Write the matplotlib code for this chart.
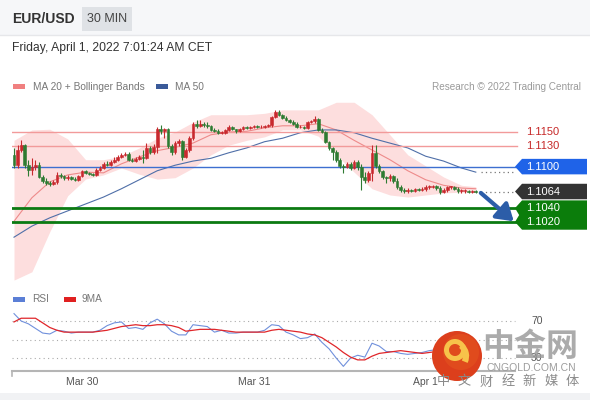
import matplotlib
matplotlib.use("Agg")
import matplotlib.pyplot as plt
import pandas as pd
from matplotlib.patches import Rectangle, Polygon, Circle, Arc, Wedge
from matplotlib.transforms import blended_transform_factory

plt.rcParams["font.family"] = ["Liberation Sans", "Noto Sans CJK SC", "DejaVu Sans"]

# --- Datos: velas EUR/USD 30 min (desde Mar 29 14:30 hasta Apr 1 07:00) ---
start_time = "2022-03-29 14:30"
opens = [1.1117, 1.1102, 1.1124, 1.1131, 1.1102, 1.1095, 1.1099, 1.1102, 1.1085, 1.1079,
         1.1076, 1.1075, 1.1078, 1.1088, 1.1086, 1.1084, 1.1085, 1.1082, 1.1081, 1.1086,
         1.1094, 1.1091, 1.1089, 1.1088, 1.1095, 1.1098, 1.1104, 1.1102, 1.1107, 1.1110,
         1.1114, 1.1117, 1.1118, 1.1110, 1.1108, 1.1111, 1.1114, 1.1112, 1.1127, 1.1121,
         1.1128, 1.1154, 1.1151, 1.1154, 1.1130, 1.1121, 1.1134, 1.1137, 1.1114, 1.1124,
         1.1141, 1.1162, 1.1159, 1.1162, 1.1160, 1.1159, 1.1153, 1.1151, 1.1149, 1.1149,
         1.1153, 1.1157, 1.1154, 1.1151, 1.1154, 1.1157, 1.1156, 1.1157, 1.1159, 1.1157,
         1.1157, 1.1159, 1.1160, 1.1172, 1.1179, 1.1175, 1.1170, 1.1167, 1.1164, 1.1162,
         1.1157, 1.1157, 1.1156, 1.1164, 1.1166, 1.1169, 1.1153, 1.1150, 1.1136, 1.1127,
         1.1121, 1.1110, 1.1101, 1.1099, 1.1104, 1.1098, 1.1107, 1.1099, 1.1085, 1.1081,
         1.1091, 1.1120, 1.1101, 1.1094, 1.1085, 1.1084, 1.1086, 1.1079, 1.1071, 1.1066,
         1.1065, 1.1066, 1.1065, 1.1068, 1.1066, 1.1068, 1.1071, 1.1071, 1.1072, 1.1069,
         1.1063, 1.1066, 1.1071, 1.1071, 1.1068, 1.1065, 1.1065, 1.1065, 1.1063, 1.1065]
closes = [1.1102, 1.1124, 1.1131, 1.1102, 1.1095, 1.1099, 1.1102, 1.1085, 1.1079, 1.1076,
          1.1075, 1.1078, 1.1088, 1.1086, 1.1084, 1.1085, 1.1082, 1.1081, 1.1086, 1.1094,
          1.1091, 1.1089, 1.1088, 1.1095, 1.1098, 1.1104, 1.1102, 1.1107, 1.1110, 1.1114,
          1.1117, 1.1118, 1.1110, 1.1108, 1.1111, 1.1114, 1.1112, 1.1127, 1.1121, 1.1128,
          1.1154, 1.1151, 1.1154, 1.1130, 1.1121, 1.1134, 1.1137, 1.1114, 1.1124, 1.1141,
          1.1162, 1.1159, 1.1162, 1.1160, 1.1159, 1.1153, 1.1151, 1.1149, 1.1149, 1.1153,
          1.1157, 1.1154, 1.1151, 1.1154, 1.1157, 1.1156, 1.1157, 1.1159, 1.1157, 1.1157,
          1.1159, 1.1160, 1.1172, 1.1179, 1.1175, 1.1170, 1.1167, 1.1164, 1.1162, 1.1157,
          1.1157, 1.1156, 1.1164, 1.1166, 1.1169, 1.1153, 1.1150, 1.1136, 1.1127, 1.1121,
          1.1110, 1.1101, 1.1099, 1.1104, 1.1098, 1.1107, 1.1099, 1.1085, 1.1081, 1.1091,
          1.1120, 1.1101, 1.1094, 1.1085, 1.1084, 1.1086, 1.1079, 1.1071, 1.1066, 1.1065,
          1.1066, 1.1065, 1.1068, 1.1066, 1.1068, 1.1071, 1.1071, 1.1072, 1.1069, 1.1063,
          1.1066, 1.1071, 1.1071, 1.1068, 1.1065, 1.1065, 1.1065, 1.1063, 1.1065, 1.1064]
highs = [1.1127, 1.1131, 1.1138, 1.1133, 1.1110, 1.1112, 1.1110, 1.1107, 1.1088, 1.1084,
         1.1079, 1.1081, 1.1092, 1.1091, 1.1088, 1.1088, 1.1086, 1.1085, 1.1088, 1.1095,
         1.1095, 1.1092, 1.1091, 1.1098, 1.1101, 1.1107, 1.1108, 1.1110, 1.1114, 1.1117,
         1.1120, 1.1121, 1.1121, 1.1112, 1.1114, 1.1117, 1.1124, 1.1134, 1.1130, 1.1133,
         1.1157, 1.1160, 1.1156, 1.1156, 1.1133, 1.1137, 1.1140, 1.1138, 1.1127, 1.1144,
         1.1164, 1.1167, 1.1167, 1.1164, 1.1164, 1.1160, 1.1156, 1.1154, 1.1151, 1.1154,
         1.1160, 1.1159, 1.1154, 1.1156, 1.1159, 1.1159, 1.1159, 1.1160, 1.1160, 1.1160,
         1.1160, 1.1162, 1.1173, 1.1182, 1.1182, 1.1176, 1.1173, 1.1169, 1.1167, 1.1164,
         1.1160, 1.1159, 1.1166, 1.1167, 1.1173, 1.1170, 1.1156, 1.1151, 1.1137, 1.1128,
         1.1124, 1.1112, 1.1104, 1.1107, 1.1107, 1.1110, 1.1110, 1.1104, 1.1092, 1.1094,
         1.1131, 1.1131, 1.1104, 1.1095, 1.1086, 1.1089, 1.1088, 1.1084, 1.1073, 1.1069,
         1.1069, 1.1068, 1.1069, 1.1069, 1.1071, 1.1073, 1.1073, 1.1073, 1.1073, 1.1072,
         1.1069, 1.1072, 1.1072, 1.1072, 1.1071, 1.1068, 1.1068, 1.1066, 1.1066, 1.1066]
lows = [1.1098, 1.1098, 1.1121, 1.1098, 1.1086, 1.1088, 1.1095, 1.1084, 1.1076, 1.1073,
        1.1072, 1.1073, 1.1075, 1.1084, 1.1081, 1.1081, 1.1081, 1.1079, 1.1079, 1.1085,
        1.1089, 1.1088, 1.1086, 1.1086, 1.1094, 1.1097, 1.1101, 1.1101, 1.1105, 1.1108,
        1.1112, 1.1115, 1.1108, 1.1107, 1.1107, 1.1110, 1.1105, 1.1111, 1.1118, 1.1118,
        1.1120, 1.1147, 1.1141, 1.1127, 1.1117, 1.1118, 1.1130, 1.1110, 1.1112, 1.1121,
        1.1138, 1.1156, 1.1157, 1.1157, 1.1156, 1.1151, 1.1150, 1.1147, 1.1147, 1.1147,
        1.1151, 1.1153, 1.1149, 1.1150, 1.1153, 1.1154, 1.1154, 1.1156, 1.1156, 1.1156,
        1.1156, 1.1157, 1.1157, 1.1170, 1.1173, 1.1169, 1.1166, 1.1163, 1.1160, 1.1156,
        1.1156, 1.1154, 1.1154, 1.1163, 1.1163, 1.1151, 1.1149, 1.1134, 1.1124, 1.1110,
        1.1107, 1.1098, 1.1091, 1.1098, 1.1095, 1.1097, 1.1095, 1.1066, 1.1076, 1.1078,
        1.1079, 1.1098, 1.1091, 1.1082, 1.1076, 1.1079, 1.1076, 1.1068, 1.1063, 1.1062,
        1.1062, 1.1063, 1.1063, 1.1065, 1.1065, 1.1065, 1.1068, 1.1069, 1.1066, 1.1060,
        1.1062, 1.1063, 1.1068, 1.1066, 1.1062, 1.1062, 1.1062, 1.1062, 1.1062, 1.1062]

# indicadores (cada 5 velas)
ind_bars = [0, 5, 10, 15, 20, 25, 30, 35, 40, 45, 50, 55, 60, 65, 70, 75, 80, 85, 90, 95,
            100, 105, 110, 115, 120, 125, 129]
ma20 = [1.1021, 1.1055, 1.1078, 1.1088, 1.1092, 1.1091, 1.1104, 1.1114, 1.1123, 1.1128,
        1.1134, 1.1146, 1.1150, 1.1151, 1.1156, 1.1159, 1.1159, 1.1162, 1.1153, 1.1138,
        1.1124, 1.1110, 1.1094, 1.1081, 1.1073, 1.1069, 1.1068]
bb_upper = [1.1138, 1.1153, 1.1154, 1.1140, 1.1110, 1.1110, 1.1115, 1.1127, 1.1141, 1.1150,
            1.1164, 1.1175, 1.1175, 1.1175, 1.1177, 1.1182, 1.1182, 1.1182, 1.1193, 1.1193,
            1.1175, 1.1146, 1.1117, 1.1101, 1.1085, 1.1073, 1.1071]
bb_lower = [1.0936, 1.0948, 1.1006, 1.1058, 1.1082, 1.1088, 1.1098, 1.1089, 1.1082, 1.1084,
            1.1098, 1.1117, 1.1131, 1.1138, 1.1143, 1.1153, 1.1153, 1.1144, 1.1117, 1.1092,
            1.1068, 1.1059, 1.1056, 1.1059, 1.1062, 1.1063, 1.1063]
ma50 = [1.0998, 1.1014, 1.1026, 1.1036, 1.1046, 1.1056, 1.1068, 1.1081, 1.1094, 1.1102,
        1.1108, 1.1112, 1.1120, 1.1127, 1.1136, 1.1141, 1.1149, 1.1153, 1.1153, 1.1149,
        1.1141, 1.1134, 1.1127, 1.1115, 1.1108, 1.1098, 1.1092]

# RSI y su media de 9 (cada 2 velas)
rsi = [78, 70, 67, 62, 57, 56, 60, 59, 57, 58, 58, 58, 60, 65, 68, 69, 62, 63, 61, 68,
       72, 67, 59, 55, 55, 66, 65, 64, 58, 60, 57, 57, 58, 58, 58, 60, 66, 65, 58, 55,
       51, 52, 56, 47, 40, 30, 21, 30, 33, 31, 46, 43, 37, 37, 35, 34, 35, 36, 38, 39,
       40, 39, 38, 38, 38]
rsi_ma9 = [69, 73, 73, 73, 68, 63, 60, 58, 58, 58, 58, 58, 59, 60, 62, 64, 65, 66, 65, 65,
           66, 66, 65, 63, 59, 60, 61, 61, 61, 60, 59, 58, 58, 58, 58, 58, 60, 61, 60, 59,
           58, 56, 55, 52, 47, 42, 36, 31, 28, 28, 32, 35, 36, 37, 38, 37, 36, 35, 36, 37,
           38, 38, 38, 38, 38]
rsi_bars = list(range(0, 130, 2))

# niveles de Trading Central
resistances = [1.1150, 1.1130]
pivot = 1.1100
supports = [1.1040, 1.1020]
last_price = 1.1064

times = pd.date_range(start_time, periods=len(closes), freq="30min")
bars = list(range(len(closes)))
day_ticks = [i for i, t in enumerate(times) if t.hour == 0 and t.minute == 0]
day_labels = ["Mar 30", "Mar 31", "Apr 1"]

UP = "#c8292e"
DOWN = "#2e7b32"

fig = plt.figure(figsize=(5.9, 4.0), dpi=100)
fig.patch.set_facecolor("white")

# --- panel de precio ---
ax = fig.add_axes([12 / 590, 1 - 285 / 400, 575 / 590, 190 / 400])
ax.set_xlim(-0.56, 160.06)
ax.set_ylim(1.09289, 1.12035)
ax.axis("off")

ax.fill_between(ind_bars, bb_lower, bb_upper, color="#fddede", lw=0, zorder=1)
ax.plot(ind_bars, ma20, color="#ee8a8a", lw=0.8, zorder=2)
ax.plot(ind_bars, ma50, color="#4f6fa8", lw=0.8, zorder=2)

for lvl in resistances:
    ax.axhline(lvl, xmin=0, xmax=0.878, color="#f29a9a", lw=1.0, zorder=2)
ax.axhline(pivot, xmin=0, xmax=0.878, color="#3d6fd0", lw=1.0, zorder=2)
for lvl in supports:
    ax.axhline(lvl, xmin=0, xmax=0.878, color="#0b7a12", lw=2.0, zorder=2)

for i in bars:
    o, c, h, l = opens[i], closes[i], highs[i], lows[i]
    col = UP if c >= o else DOWN
    ax.vlines(i, l, h, color=col, lw=0.8, zorder=3)
    body = max(abs(c - o), 0.00009)
    ax.bar(i, body, bottom=min(o, c), width=0.75, color=col, edgecolor=col, lw=0.4, zorder=4)

# lineas punteadas hacia las etiquetas
ax.plot([130.5, 140], [ma50[-1], ma50[-1]], color="#777777", lw=0.9, ls=(0, (1, 2.5)), zorder=2)
ax.plot([130.5, 140], [last_price, last_price], color="#777777", lw=0.9, ls=(0, (1, 2.5)), zorder=2)

# flecha de objetivo
ax.annotate("", xy=(139.6, 1.1021), xytext=(130.4, 1.1062),
            arrowprops=dict(arrowstyle="-|>,head_width=0.45,head_length=0.7",
                            color="#2c5da8", lw=3, mutation_scale=14, shrinkA=0, shrinkB=0),
            zorder=6)

# etiquetas de precio a la derecha
bt = blended_transform_factory(ax.transAxes, ax.transData)
tip, notch, right, hh = 0.8748, 0.887, 1.0, 0.00112
tx = 0.894


def tag(y, fc):
    ax.add_patch(Polygon([(tip, y), (notch, y + hh), (right, y + hh), (right, y - hh),
                          (notch, y - hh)], closed=True, transform=bt, fc=fc, ec="none",
                         zorder=5, clip_on=False))


tag(pivot, "#1f63e8")
tag(last_price, "#333333")
ax.add_patch(Polygon([(tip, supports[0]), (notch, supports[0] + hh), (right, supports[0] + hh),
                      (right, supports[1] - hh), (notch, supports[1] - hh), (tip, supports[1]),
                      (0.882, (supports[0] + supports[1]) / 2)],
                     closed=True, transform=bt, fc="#0b7d0b", ec="none", zorder=5, clip_on=False))

for lvl in resistances:
    ax.text(tx, lvl, f"{lvl:.4f}", transform=bt, color="#c62828", fontsize=8, va="center")
ax.text(tx, pivot, f"{pivot:.4f}", transform=bt, color="white", fontsize=8, va="center", zorder=6)
ax.text(tx, last_price, f"{last_price:.4f}", transform=bt, color="white", fontsize=8,
        va="center", zorder=6)
for lvl in supports:
    ax.text(tx, lvl, f"{lvl:.4f}", transform=bt, color="white", fontsize=8, va="center", zorder=6)

# --- panel RSI ---
ax2 = fig.add_axes([12 / 590, 1 - 371 / 400, 575 / 590, 66 / 400])
ax2.set_xlim(-0.56, 160.06)
ax2.set_ylim(16, 87.3)
ax2.axis("off")
for lvl in [70, 50, 30]:
    ax2.axhline(lvl, xmin=0, xmax=0.8748, color="#aaaaaa", lw=0.8, ls=(0, (1, 3)))
ax2.plot(rsi_bars, rsi, color="#7090dc", lw=0.8)
ax2.plot(rsi_bars, rsi_ma9, color="#e0262a", lw=0.9)
bt2 = blended_transform_factory(ax2.transAxes, ax2.transData)
ax2.text(0.9026, 70, "70", transform=bt2, fontsize=7.5, color="#555555", va="center")
ax2.text(0.9026, 30, "30", transform=bt2, fontsize=7.5, color="#555555", va="center")
ax2.plot([0, 0.8748], [0, 0], transform=ax2.transAxes, color="#b5b5b5", lw=1.5, clip_on=False)
ax2.plot([0, 0], [0, -0.07], transform=ax2.transAxes, color="#b5b5b5", lw=1.2, clip_on=False)
dt = blended_transform_factory(ax2.transData, ax2.transAxes)
for b, lab in zip(day_ticks, day_labels):
    ax2.text(b, -0.17, lab, transform=dt, fontsize=7.5, color="#555555", ha="center", va="center")

# --- capa superior: cabecera, leyendas, marca de agua ---
ov = fig.add_axes([0, 0, 1, 1], zorder=10)
ov.set_xlim(0, 590)
ov.set_ylim(400, 0)
ov.axis("off")
ov.patch.set_alpha(0)

ov.add_patch(Rectangle((0, 0), 590, 35, fc="#f6f7f9", ec="none"))
ov.plot([0, 590], [35, 35], color="#e6e7ea", lw=1)
ov.add_patch(Rectangle((82, 7), 50, 24, fc="#dfe2e6", ec="none"))
ov.text(12, 19, "EUR/USD", fontsize=10, fontweight="bold", color="#333333", va="center")
ov.text(107, 19, "30 MIN", fontsize=9, color="#444444", va="center", ha="center")
ov.text(12, 48, "Friday, April 1, 2022 7:01:24 AM CET", fontsize=8.7, color="#333333",
        va="center")

ov.add_patch(Rectangle((13, 84), 12, 5, fc="#f08080", ec="none"))
ov.text(33, 86.5, "MA 20 + Bollinger Bands", fontsize=7.3, color="#777777", va="center")
ov.add_patch(Rectangle((156, 84), 12, 5, fc="#3a5a99", ec="none"))
ov.text(175, 86.5, "MA 50", fontsize=7.3, color="#777777", va="center")
ov.text(581, 86.5, "Research © 2022 Trading Central", fontsize=7.2, color="#9a9a9a",
        va="center", ha="right")

ov.add_patch(Rectangle((13, 297), 12, 5, fc="#5b7fd6", ec="none"))
ov.text(32, 299.5, "RSI", fontsize=7.3, color="#777777", va="center")
ov.add_patch(Rectangle((64, 297), 12, 5, fc="#e02020", ec="none"))
ov.text(82, 299.5, "9MA", fontsize=7.3, color="#777777", va="center")

ov.add_patch(Rectangle((0, 393), 590, 7, fc="#f1f2f4", ec="none"))

# logo 中金网
ov.add_patch(Circle((457, 356), 25, fc="#dc3f1c", ec="none"))
ov.add_patch(Circle((461, 352), 18, fc="#e4541f", ec="none", alpha=0.6))
ov.add_patch(Wedge((455, 350), 11, 0, 360, width=5, fc="#f7c34a", ec="none"))
ov.add_patch(Arc((449, 356), 34, 30, theta1=-40, theta2=20, color="#f7c34a", lw=4.5))
ov.text(530, 347, "中金网", fontsize=23, fontweight="bold", color="#9c9c9c", alpha=0.85,
        ha="center", va="center", family=["Noto Sans CJK SC"])
ov.text(531, 368, "CNGOLD.COM.CN", fontsize=7.5, color="#9c9c9c", ha="center", va="center")
for k, ch in enumerate("中文财经新媒体"):
    ov.text(443 + 21.6 * k, 382, ch, fontsize=9.5, color="#8a8a8a", ha="center", va="center",
            family=["Noto Sans CJK SC"])

fig.savefig("out.png", dpi=100)
